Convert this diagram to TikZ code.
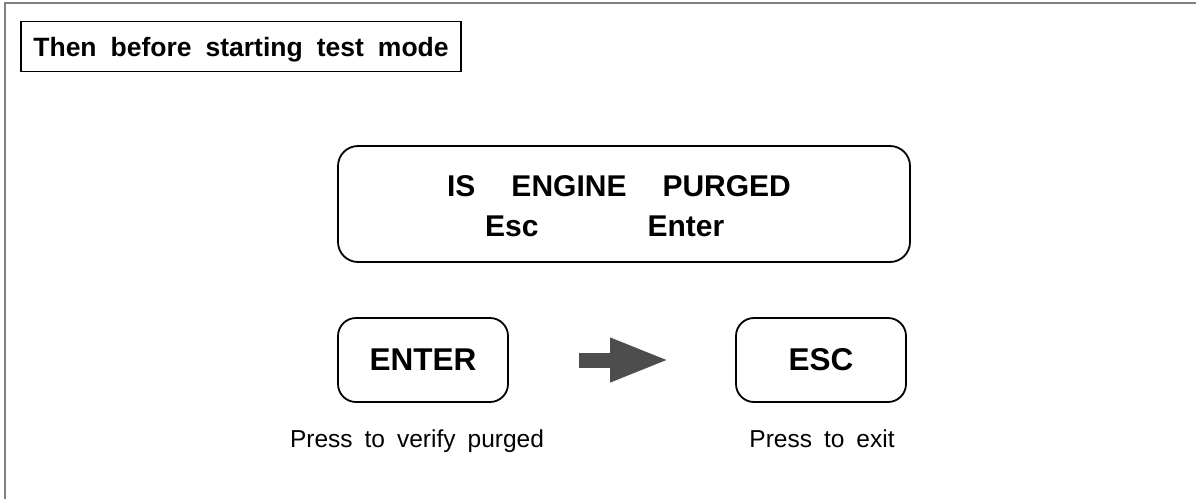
\documentclass[tikz,border=0pt]{standalone}
\usepackage{fontspec}
\setmainfont{Liberation Sans}
\usetikzlibrary{arrows.meta}
\definecolor{framegray}{HTML}{808080}
\definecolor{arrowgray}{HTML}{4D4D4D}
\tikzset{
  key/.style={draw=black, line width=1.8pt, rounded corners=18pt, minimum width=170pt, minimum height=84pt, font=\bfseries\fontsize{31.5}{34}\selectfont, inner sep=0pt},
  dispfont/.style={font=\bfseries\fontsize{30}{33}\selectfont, inner sep=0pt},
  caption/.style={font=\fontsize{24.5}{28}\selectfont, inner sep=0pt, anchor=base},
}
\begin{document}
\begin{tikzpicture}[x=1pt,y=-1pt]
\useasboundingbox (0,0) rectangle (1196,499);
% outer frame (top and left only)
\coordinate (ftr) at (1196,2.5);
\coordinate (ftl) at (4.5,2.5);
\coordinate (fbl) at (4.5,499);
\draw[framegray, line width=2pt] (ftr) -- (ftl) -- (fbl);
% title
\node[draw=black, line width=1.3pt, minimum width=440pt, minimum height=50pt, inner sep=0pt, text depth=0pt,
      font=\bfseries\fontsize{26.5}{30}\selectfont] (title) at (241,46.5) {Then\hspace{14pt}before\hspace{14pt}starting\hspace{14pt}test\hspace{14pt}mode};
% display
\node[draw=black, line width=1.8pt, rounded corners=20pt, minimum width=572pt, minimum height=116pt, inner sep=0pt] (disp) at (624,204) {};
\node[dispfont, anchor=base] (l1) at (619,196) {IS\hspace{36pt}ENGINE\hspace{36pt}PURGED};
\node[dispfont, anchor=base west] (l2) at (485,236) {Esc\hspace{109pt}Enter};
% keys
\node[key] (enter) at (423,360) {ENTER};
\node[key] (esc) at (821,360) {ESC};
% arrow
\coordinate (as) at (579,360);
\coordinate (ae) at (670,360);
\draw[arrowgray, line width=15pt, -{Triangle[length=60pt,width=40pt]}] (as) -- (ae);
% captions
\node[caption] (c1) at (417,447) {Press\hspace{12pt}to\hspace{12pt}verify\hspace{12pt}purged};
\node[caption] (c2) at (822,447) {Press\hspace{12pt}to\hspace{12pt}exit};
\end{tikzpicture}
\end{document}
